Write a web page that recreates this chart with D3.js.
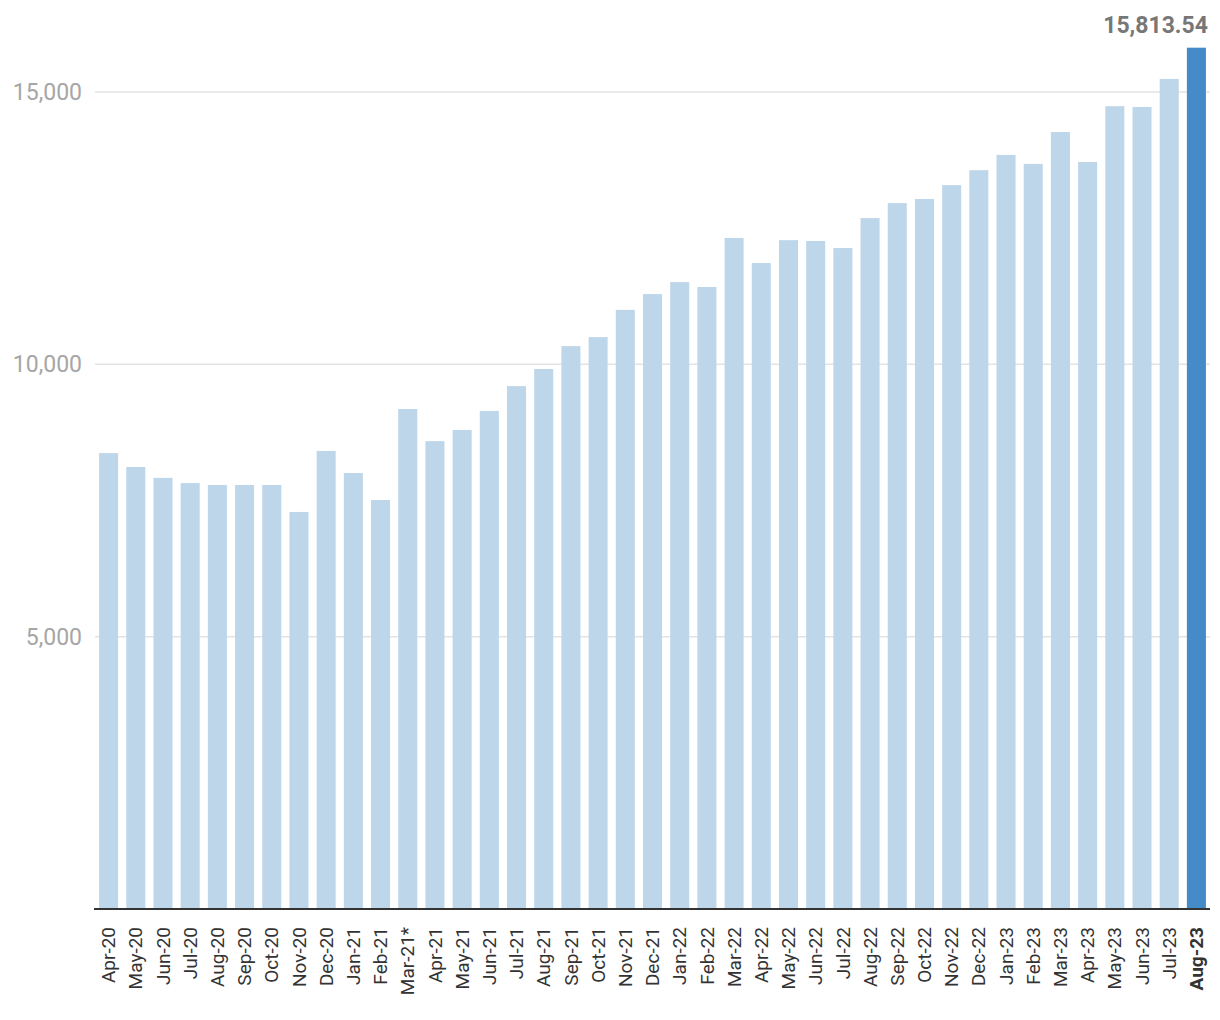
<!DOCTYPE html>
<html>
<head>
<meta charset="utf-8">
<script src="https://cdn.jsdelivr.net/npm/d3@7"></script>
<style>
  body { margin: 0; background: #fff; }
  svg { display: block; font-family: Roboto, sans-serif; }
</style>
</head>
<body>
<div id="chart"></div>
<script>
// Months shown along the x axis
const months = ['Apr-20', 'May-20', 'Jun-20', 'Jul-20', 'Aug-20', 'Sep-20', 'Oct-20', 'Nov-20', 'Dec-20',
  'Jan-21', 'Feb-21', 'Mar-21*', 'Apr-21', 'May-21', 'Jun-21', 'Jul-21', 'Aug-21', 'Sep-21', 'Oct-21', 'Nov-21', 'Dec-21',
  'Jan-22', 'Feb-22', 'Mar-22', 'Apr-22', 'May-22', 'Jun-22', 'Jul-22', 'Aug-22', 'Sep-22', 'Oct-22', 'Nov-22', 'Dec-22',
  'Jan-23', 'Feb-23', 'Mar-23', 'Apr-23', 'May-23', 'Jun-23', 'Jul-23', 'Aug-23'];

// Values (last one is labelled)
const values = [8370, 8115, 7915, 7820, 7785, 7785, 7785, 7290, 8410,
  8005, 7510, 9180, 8590, 8795, 9145, 9600, 9915, 10335, 10500, 11000, 11290,
  11510, 11420, 12320, 11860, 12280, 12265, 12135, 12685, 12960, 13035, 13290, 13565,
  13845, 13680, 14265, 13715, 14740, 14725, 15240, 15813.54];

const yTicks = [5000, 10000, 15000];

const width = 1220, height = 1020;
const margin = { top: 0, right: 10, bottom: 111, left: 95 };
const lastIdx = values.length - 1;

const svg = d3.select('#chart').append('svg')
  .attr('width', width)
  .attr('height', height);

const x = d3.scaleBand()
  .domain(months)
  .range([margin.left, width - margin.right])
  .paddingInner(0.3)
  .paddingOuter(0.15);

const y = d3.scaleLinear()
  .domain([0, 15000])
  .range([height - margin.bottom, 92]);

//Gridlines
svg.append('g')
  .attr('class', 'grid')
  .selectAll('line')
  .data(yTicks)
  .enter()
  .append('line')
  .attr('x1', margin.left)
  .attr('x2', width - margin.right)
  .attr('y1', d => y(d))
  .attr('y2', d => y(d))
  .attr('stroke', '#e3e3e3')
  .attr('stroke-width', 1.5);

//Y axis labels, no domain line
const yAxis = svg.append('g')
  .attr('transform', 'translate(' + (margin.left - 13) + ',0)')
  .call(d3.axisLeft(y).tickValues(yTicks).tickSize(0).tickPadding(0).tickFormat(d3.format(',')));

yAxis.select('.domain').remove();
yAxis.selectAll('text')
  .attr('fill', '#a6a6a6')
  .style('font-size', '23px')
  .style('font-family', 'Roboto, sans-serif');

//Bars
svg.append('g')
  .attr('class', 'bars')
  .selectAll('rect')
  .data(values)
  .enter()
  .append('rect')
  .attr('x', (d, i) => x(months[i]))
  .attr('width', x.bandwidth())
  .attr('y', d => y(d))
  .attr('height', d => y(0) - y(d))
  .attr('fill', (d, i) => i === lastIdx ? '#448bc7' : '#bed6ea');

//Value label for the latest month
svg.append('text')
  .attr('x', x(months[lastIdx]) + x.bandwidth() + 2)
  .attr('y', y(values[lastIdx]) - 15)
  .attr('text-anchor', 'end')
  .attr('fill', '#777')
  .style('font-size', '23px')
  .style('font-weight', 700)
  .text(d3.format(',.2f')(values[lastIdx]));

//X axis
const xAxis = svg.append('g')
  .attr('transform', 'translate(0,' + y(0) + ')')
  .call(d3.axisBottom(x).tickSize(0).tickPadding(0));

xAxis.select('.domain')
  .attr('d', 'M' + (margin.left - 1) + ',0H' + (width - margin.right))
  .attr('stroke', '#333')
  .attr('stroke-width', 2);

xAxis.selectAll('text')
  .attr('transform', 'rotate(-90)')
  .attr('text-anchor', 'end')
  .attr('x', -18)
  .attr('y', 0)
  .attr('dy', '0.35em')
  .attr('fill', '#333')
  .style('font-size', '19px')
  .style('font-family', 'Roboto, sans-serif')
  .style('font-weight', (d, i) => i === lastIdx ? 700 : 400);
</script>
</body>
</html>
